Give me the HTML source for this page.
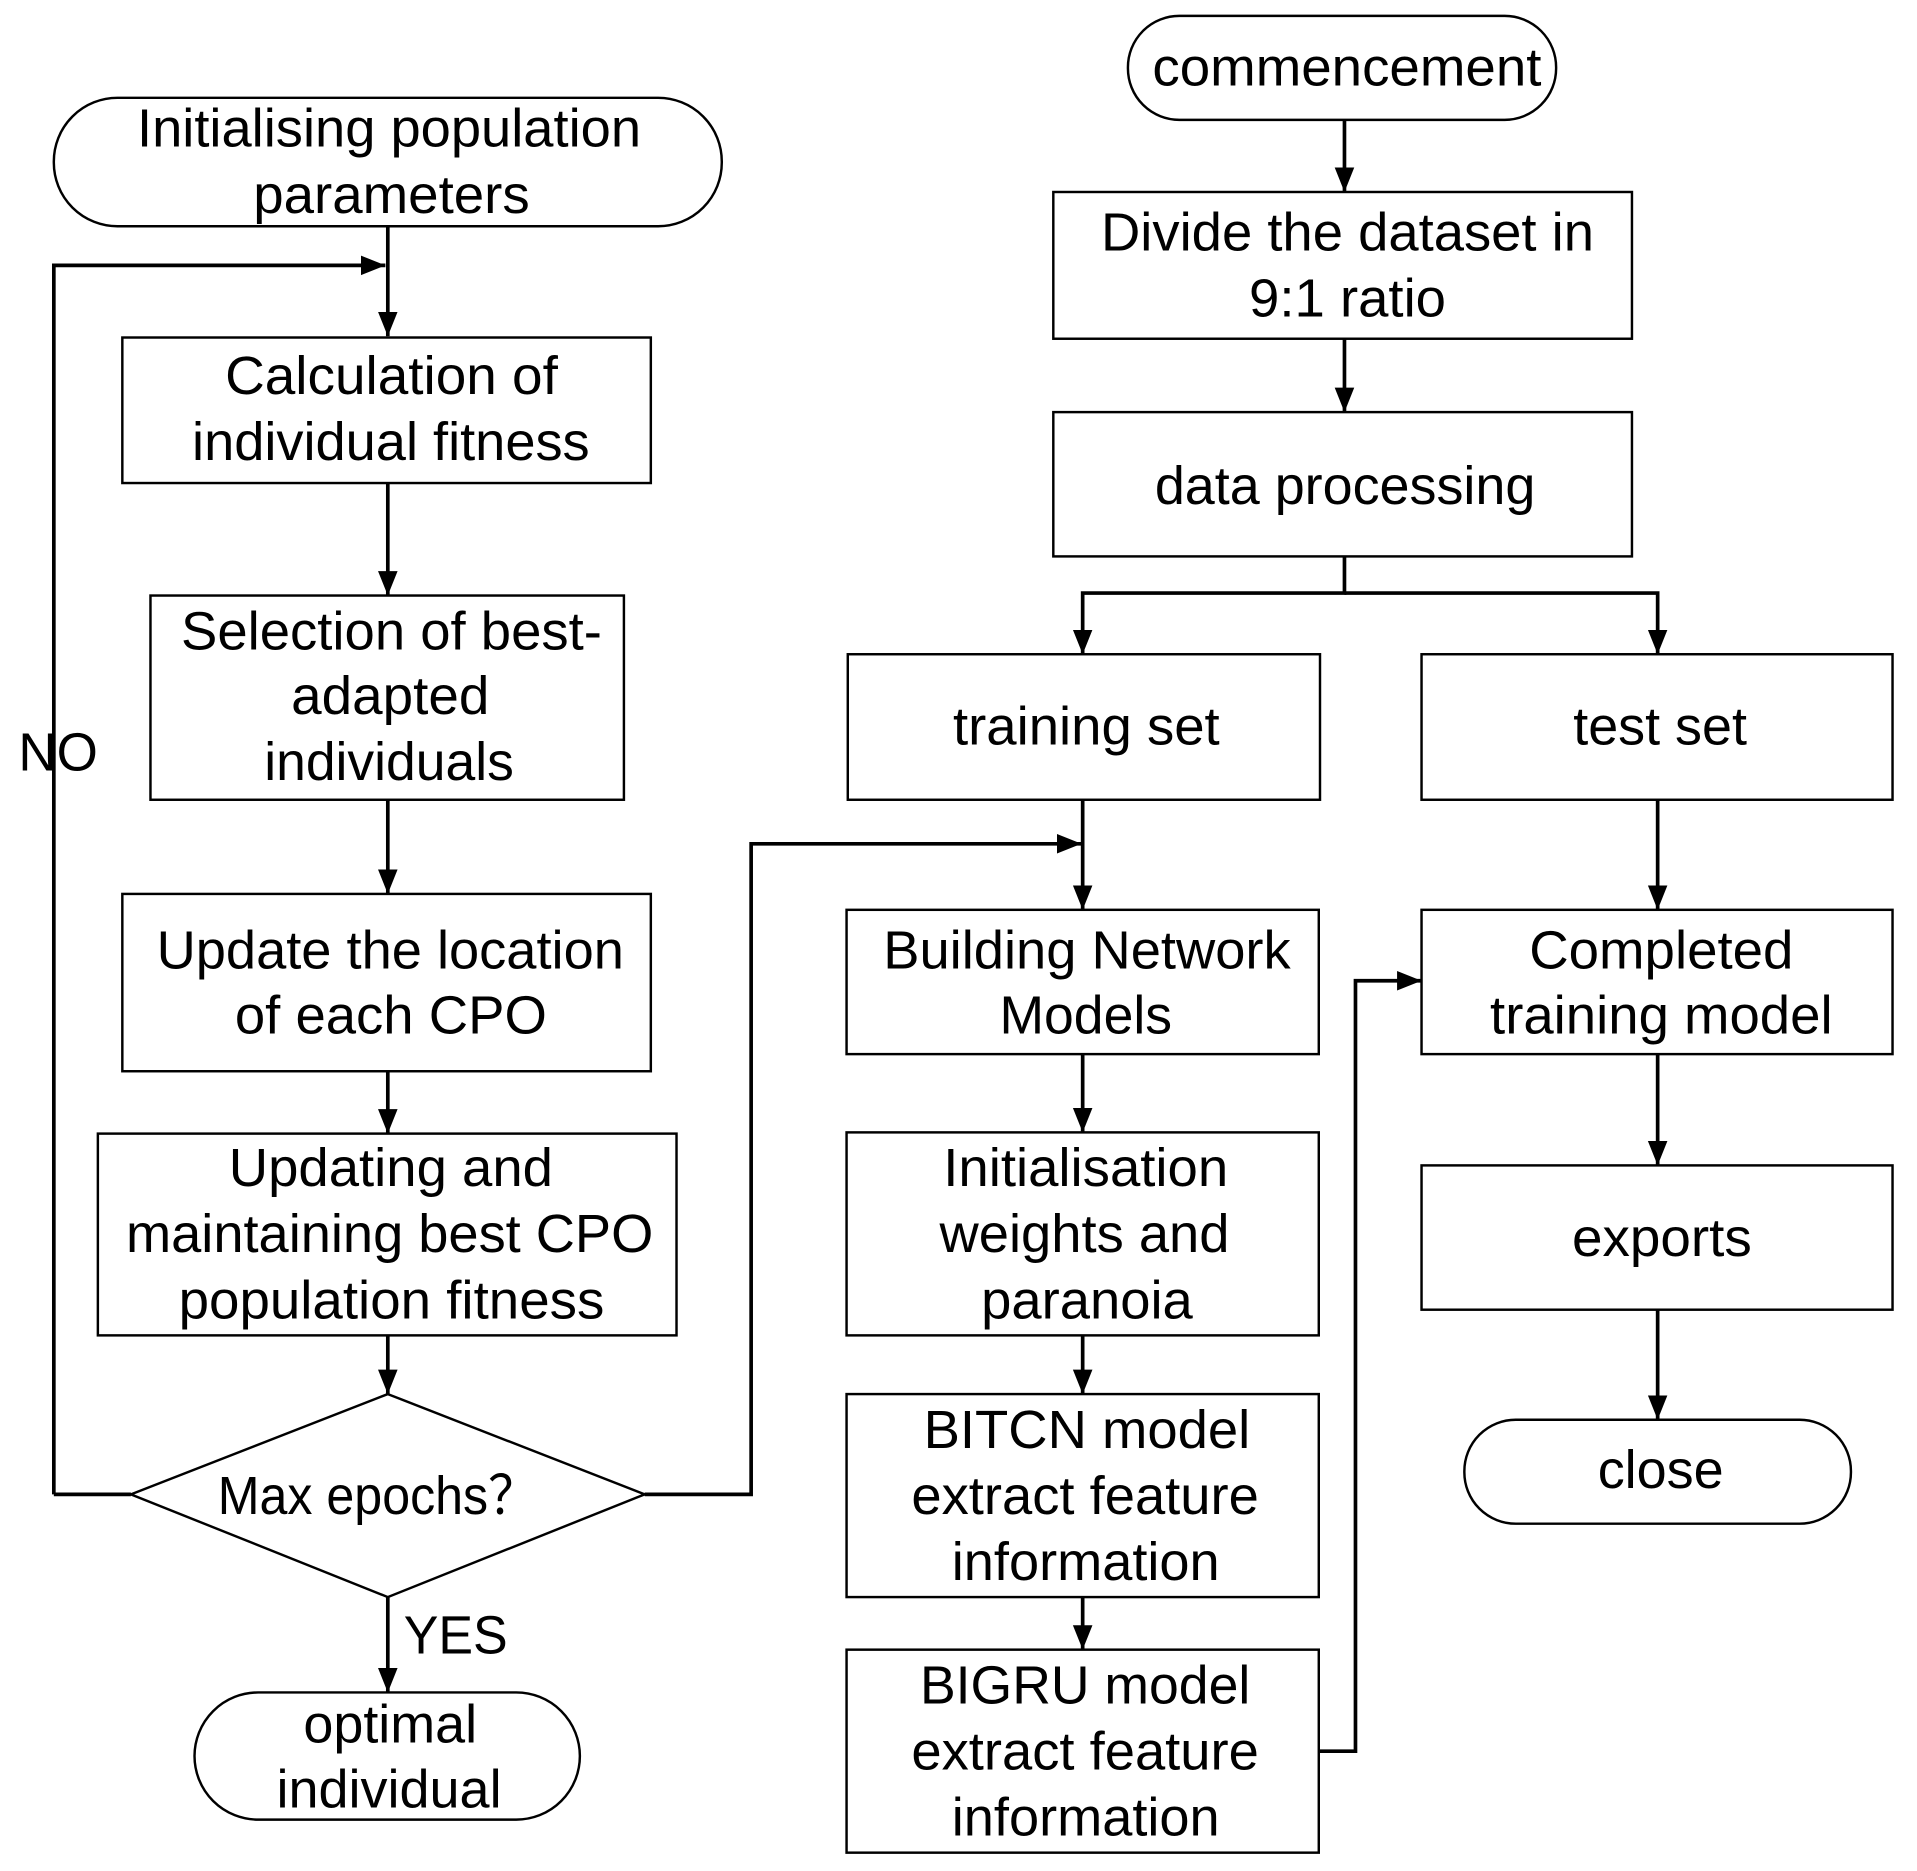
<!DOCTYPE html>
<html><head><meta charset="utf-8"><style>html,body{margin:0;padding:0;background:#fff}svg{display:block}</style></head>
<body>
<svg width="1917" height="1871" viewBox="0 0 1567 1530" preserveAspectRatio="none" xmlns="http://www.w3.org/2000/svg">
<defs>
<marker id="b" markerWidth="22" markerHeight="18" refX="20" refY="9" orient="auto" markerUnits="userSpaceOnUse"><path d="M0,1 L20,9 L0,17 z" fill="#000"/></marker></defs>
<g fill="#fff" stroke="#000" stroke-width="2">
<rect x="44" y="80" width="546" height="105" rx="52"/>
<rect x="922" y="13" width="350" height="85" rx="42"/>
<rect x="159" y="1384" width="315" height="104" rx="52"/>
<rect x="1197" y="1161" width="316" height="85" rx="42"/>
<rect x="100" y="276" width="432" height="119"/>
<rect x="123" y="487" width="387" height="167"/>
<rect x="100" y="731" width="432" height="145"/>
<rect x="80" y="927" width="473" height="165"/>
<path d="M317,1140 L527,1222 L317,1306 L107,1222 Z"/>
<rect x="861" y="157" width="473" height="120"/>
<rect x="861" y="337" width="473" height="118"/>
<rect x="693" y="535" width="386" height="119"/>
<rect x="1162" y="535" width="385" height="119"/>
<rect x="692" y="744" width="386" height="118"/>
<rect x="692" y="926" width="386" height="166"/>
<rect x="692" y="1140" width="386" height="166"/>
<rect x="692" y="1349" width="386" height="166"/>
<rect x="1162" y="744" width="385" height="118"/>
<rect x="1162" y="953" width="385" height="118"/>
</g>
<g fill="none" stroke="#000" stroke-width="3" marker-end="url(#b)">
<path d="M317,185 V275"/>
<path d="M44,1222 H107 M44,1222 V217 H315"/>
<path d="M317,395 V487"/>
<path d="M317,654 V731"/>
<path d="M317,876 V927"/>
<path d="M317,1092 V1140"/>
<path d="M317,1306 V1384"/>
<path d="M527,1222 H614 V690 H884"/>
<path d="M1099,98 V157"/>
<path d="M1099,277 V337"/>
<path d="M1099,455 V485 H885 V535"/>
<path d="M1099,485 H1355 V535"/>
<path d="M885,654 V744"/>
<path d="M885,862 V926"/>
<path d="M885,1092 V1140"/>
<path d="M885,1306 V1349"/>
<path d="M1078,1432 H1108 V802 H1162"/>
<path d="M1355,654 V744"/>
<path d="M1355,862 V953"/>
<path d="M1355,1071 V1161"/>
</g>
<g font-family="Liberation Sans, Arial, sans-serif" font-size="44" fill="#000">
<text x="112" y="120" textLength="412" lengthAdjust="spacingAndGlyphs">Initialising population</text>
<text x="207" y="174" textLength="226" lengthAdjust="spacingAndGlyphs">parameters</text>
<text x="942" y="70" textLength="318" lengthAdjust="spacingAndGlyphs">commencement</text>
<text x="900" y="205" textLength="403" lengthAdjust="spacingAndGlyphs">Divide the dataset in</text>
<text x="1021" y="259" textLength="161" lengthAdjust="spacingAndGlyphs">9:1 ratio</text>
<text x="944" y="412" textLength="311" lengthAdjust="spacingAndGlyphs">data processing</text>
<text x="779" y="609" textLength="218" lengthAdjust="spacingAndGlyphs">training set</text>
<text x="1286" y="609" textLength="142" lengthAdjust="spacingAndGlyphs">test set</text>
<text x="184" y="322" textLength="272" lengthAdjust="spacingAndGlyphs">Calculation of</text>
<text x="157" y="376" textLength="325" lengthAdjust="spacingAndGlyphs">individual fitness</text>
<text x="148" y="531" textLength="344" lengthAdjust="spacingAndGlyphs">Selection of best-</text>
<text x="238" y="584" textLength="162" lengthAdjust="spacingAndGlyphs">adapted</text>
<text x="216" y="638" textLength="204" lengthAdjust="spacingAndGlyphs">individuals</text>
<text x="128" y="792" textLength="382" lengthAdjust="spacingAndGlyphs">Update the location</text>
<text x="192" y="845" textLength="255" lengthAdjust="spacingAndGlyphs">of each CPO</text>
<text x="187" y="970" textLength="265" lengthAdjust="spacingAndGlyphs">Updating and</text>
<text x="103" y="1024" textLength="431" lengthAdjust="spacingAndGlyphs">maintaining best CPO</text>
<text x="146" y="1078" textLength="348" lengthAdjust="spacingAndGlyphs">population fitness</text>
<text x="178" y="1238" textLength="262" lengthAdjust="spacingAndGlyphs">Max epochs？</text>
<text x="330" y="1352" textLength="85" lengthAdjust="spacingAndGlyphs">YES</text>
<text x="15" y="630" textLength="65" lengthAdjust="spacingAndGlyphs">NO</text>
<text x="248" y="1425" textLength="142" lengthAdjust="spacingAndGlyphs">optimal</text>
<text x="226" y="1478" textLength="184" lengthAdjust="spacingAndGlyphs">individual</text>
<text x="722" y="792" textLength="333" lengthAdjust="spacingAndGlyphs">Building Network</text>
<text x="817" y="845" textLength="141" lengthAdjust="spacingAndGlyphs">Models</text>
<text x="771" y="970" textLength="233" lengthAdjust="spacingAndGlyphs">Initialisation</text>
<text x="768" y="1024" textLength="237" lengthAdjust="spacingAndGlyphs">weights and</text>
<text x="802" y="1078" textLength="173" lengthAdjust="spacingAndGlyphs">paranoia</text>
<text x="755" y="1184" textLength="267" lengthAdjust="spacingAndGlyphs">BITCN model</text>
<text x="745" y="1238" textLength="284" lengthAdjust="spacingAndGlyphs">extract feature</text>
<text x="778" y="1292" textLength="219" lengthAdjust="spacingAndGlyphs">information</text>
<text x="752" y="1393" textLength="270" lengthAdjust="spacingAndGlyphs">BIGRU model</text>
<text x="745" y="1447" textLength="284" lengthAdjust="spacingAndGlyphs">extract feature</text>
<text x="778" y="1501" textLength="219" lengthAdjust="spacingAndGlyphs">information</text>
<text x="1250" y="792" textLength="216" lengthAdjust="spacingAndGlyphs">Completed</text>
<text x="1218" y="845" textLength="280" lengthAdjust="spacingAndGlyphs">training model</text>
<text x="1285" y="1027" textLength="147" lengthAdjust="spacingAndGlyphs">exports</text>
<text x="1306" y="1217" textLength="103" lengthAdjust="spacingAndGlyphs">close</text>
</g>
</svg>
</body></html>
